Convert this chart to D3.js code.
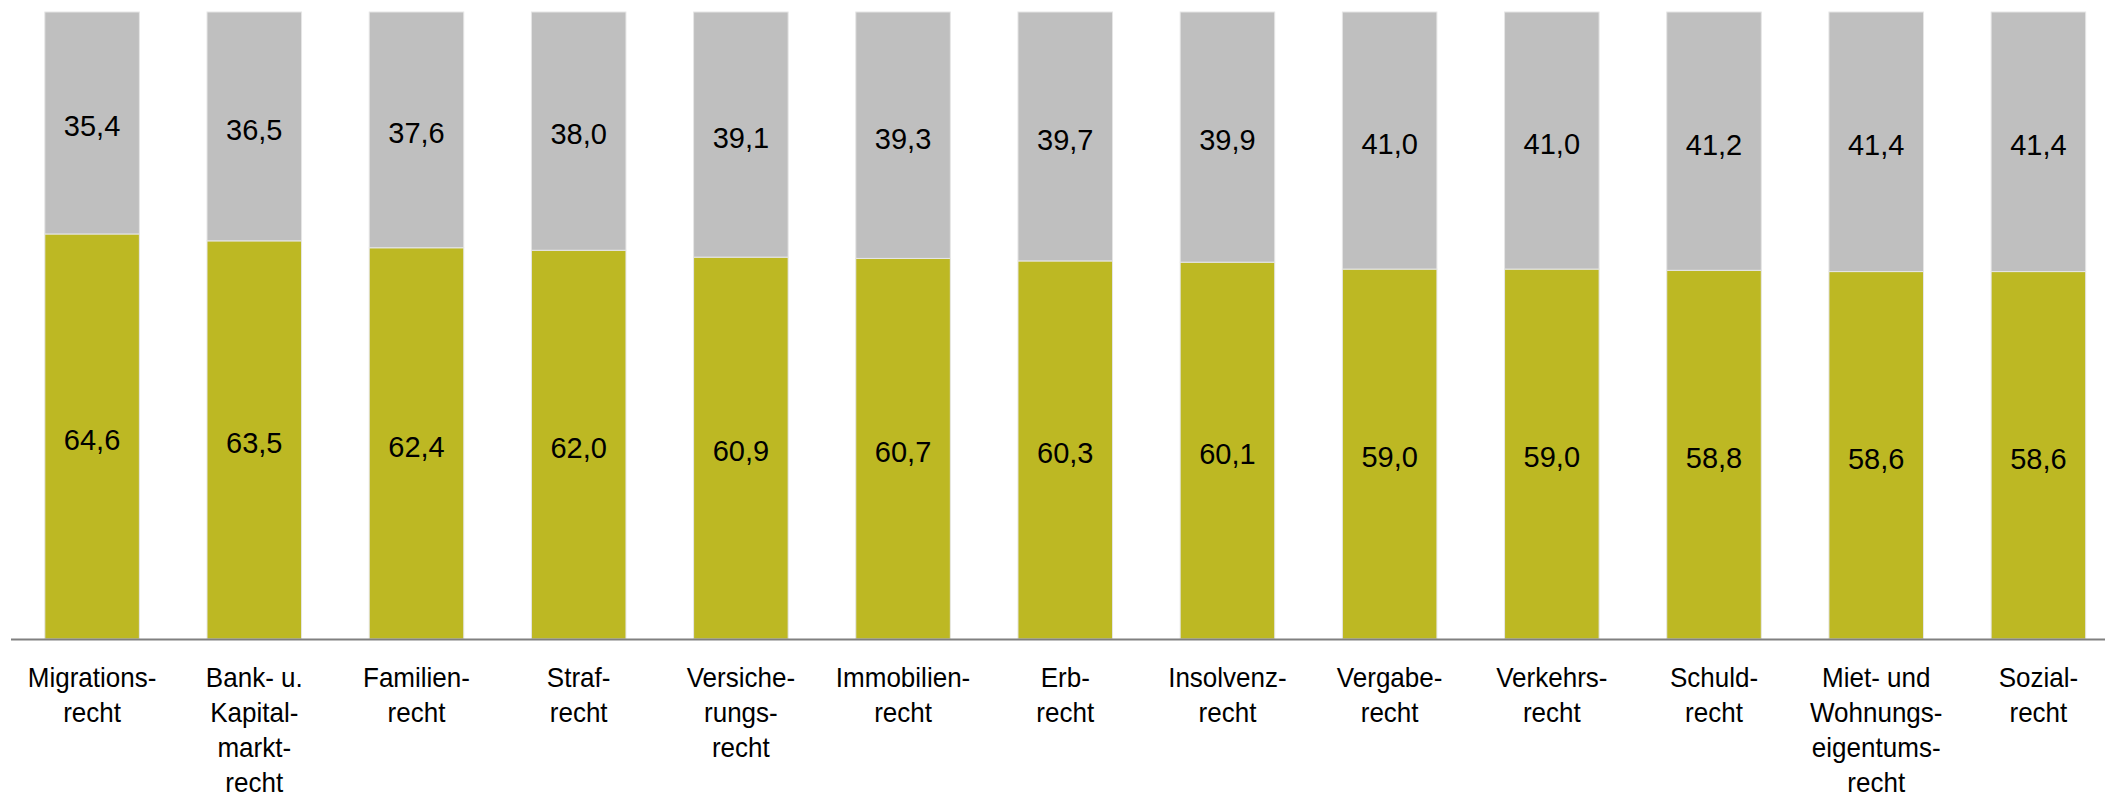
<!DOCTYPE html>
<html><head><meta charset="utf-8">
<script src="https://cdnjs.cloudflare.com/ajax/libs/d3/7.8.5/d3.min.js"></script>
<style>
html,body{margin:0;padding:0;background:#fff;}
svg{display:block;}
</style></head>
<body>
<svg id="chart" width="2105" height="798"></svg>
<script>
const categories = [
  "Migrations-|recht",
  "Bank- u.|Kapital-|markt-|recht",
  "Familien-|recht",
  "Straf-|recht",
  "Versiche-|rungs-|recht",
  "Immobilien-|recht",
  "Erb-|recht",
  "Insolvenz-|recht",
  "Vergabe-|recht",
  "Verkehrs-|recht",
  "Schuld-|recht",
  "Miet- und|Wohnungs-|eigentums-|recht",
  "Sozial-|recht"
];
const greenValues = [64.6, 63.5, 62.4, 62.0, 60.9, 60.7, 60.3, 60.1, 59.0, 59.0, 58.8, 58.6, 58.6];
const greyValues  = [35.4, 36.5, 37.6, 38.0, 39.1, 39.3, 39.7, 39.9, 41.0, 41.0, 41.2, 41.4, 41.4];
const seriesKeys = ["green", "grey"];
const seriesColors = ["#BDB823", "#BFBFBF"];

const rows = categories.map((c, i) => ({cat: c, green: greenValues[i], grey: greyValues[i]}));

const svg = d3.select("#chart");
const x = d3.scaleBand().domain(categories).range([11, 2119.5]).paddingInner(0.417).paddingOuter(0.2085);
const y = d3.scaleLinear().domain([0, 100]).range([639, 12]);
const color = d3.scaleOrdinal().domain(seriesKeys).range(seriesColors);

const stacked = d3.stack().keys(seriesKeys)(rows);

const fmt = v => v.toFixed(1).replace(".", ",");

const layers = svg.append("g").selectAll("g").data(stacked).join("g")
  .attr("fill", d => color(d.key));

layers.selectAll("rect").data(d => d).join("rect")
  .attr("x", d => x(d.data.cat))
  .attr("width", x.bandwidth())
  .attr("y", d => y(d[1]))
  .attr("height", d => y(d[0]) - y(d[1]))
  .attr("stroke", "#e6e6e6")
  .attr("stroke-width", 1);

layers.selectAll("text").data(d => d).join("text")
  .attr("x", d => x(d.data.cat) + x.bandwidth() / 2)
  .attr("y", d => (y(d[0]) + y(d[1])) / 2)
  .attr("dy", "0.46em")
  .attr("text-anchor", "middle")
  .attr("font-family", "'Liberation Sans', Arial, sans-serif")
  .attr("font-size", 29)
  .attr("fill", "#000")
  .text(function(d) { const k = d3.select(this.parentNode).datum().key; return fmt(d.data[k]); });

// axis line
svg.append("line")
  .attr("x1", 11).attr("x2", 2105)
  .attr("y1", y(0) + 0.5).attr("y2", y(0) + 0.5)
  .attr("stroke", "#808080").attr("stroke-width", 2);

// category labels
const xAxis = d3.axisBottom(x).tickSize(0).tickPadding(0).tickFormat("");
const gx = svg.append("g").attr("transform", `translate(0,${y(0)})`).call(xAxis);
gx.select(".domain").remove();
gx.selectAll(".tick").each(function(d) {
  const t = d3.select(this).append("text")
    .attr("transform", "scale(0.93,1)")
    .attr("text-anchor", "middle")
    .attr("font-family", "'Liberation Sans', Arial, sans-serif")
    .attr("font-size", 28)
    .attr("fill", "#000");
  d.split("|").forEach((line, i) => {
    t.append("tspan").attr("x", 0).attr("y", 48 + i * 35).text(line);
  });
});
</script>
</body></html>
